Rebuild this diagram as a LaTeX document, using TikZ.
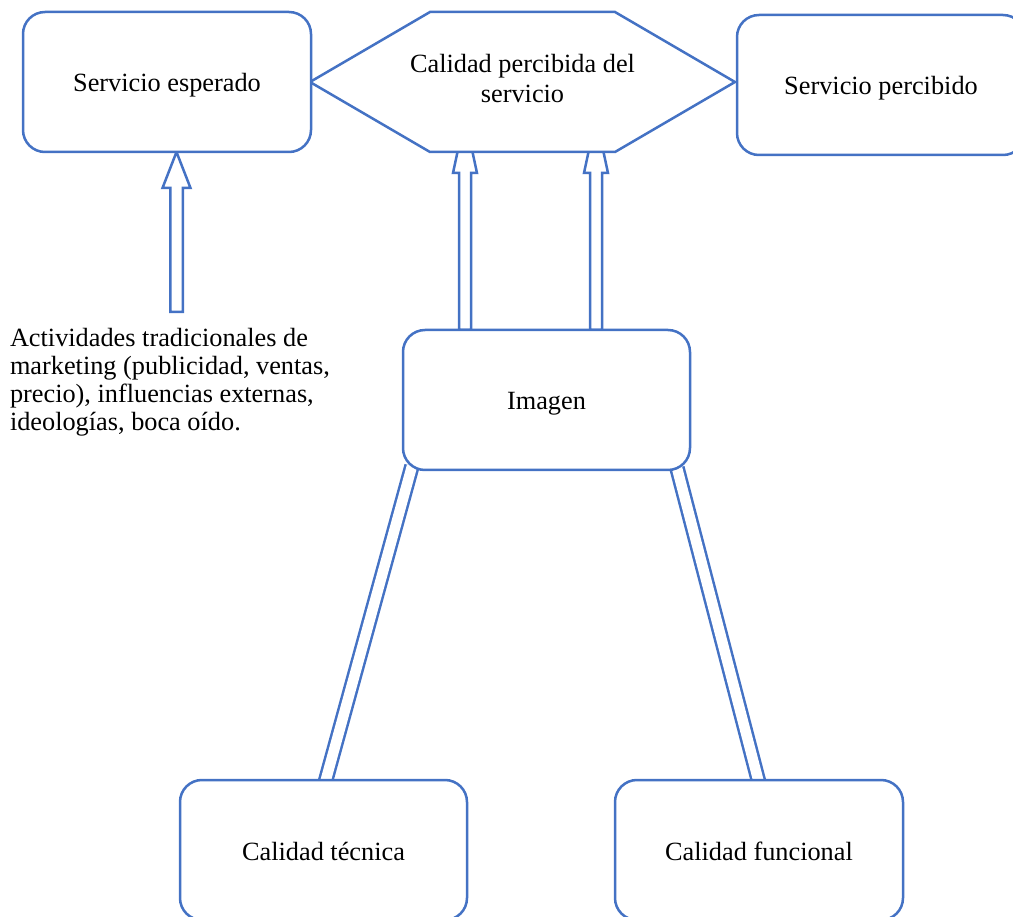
\documentclass[tikz,border=0pt]{standalone}
\usepackage{fontspec}
\setmainfont{Liberation Serif}
\usetikzlibrary{calc,backgrounds}
\definecolor{edge}{HTML}{4472C4}

% hollow block arrow from tail #1 up to tip #2
% #3 shaft half width, #4 head half width, #5 head length
\newcommand\hollowarrow[5]{%
  \draw[blockarrow] let \p1=(#1), \p2=(#2) in
    (\x1-#3,\y1) -- (\x1-#3,\y2-#5) -- (\x1-#4,\y2-#5) -- (\x1,\y2)
    -- (\x1+#4,\y2-#5) -- (\x1+#3,\y2-#5) -- (\x1+#3,\y1) -- cycle;
}

\begin{document}
\begin{tikzpicture}[x=1pt,y=-1pt,
  box/.style={draw=edge, line width=2.5pt, rounded corners=22pt, fill=white,
    minimum width=288pt, minimum height=140pt, inner sep=0pt, outer sep=0pt,
    anchor=north west, font=\fontsize{26.3}{30}\selectfont,
    text height=20pt, text depth=0pt},
  label text/.style={inner sep=0pt, outer sep=0pt,
    font=\fontsize{26.3}{28}\selectfont},
  blockarrow/.style={draw=edge, line width=2.5pt, fill=white, line join=miter},
  twin/.style={draw=edge, line width=2.5pt, double=white, double distance=10.5pt},
  hexa/.style={draw=edge, line width=2.5pt, fill=white, line join=miter}
]
\useasboundingbox (0,0) rectangle (1013,917);

% central hexagon
\coordinate (hl) at (310,82);
\coordinate (htl) at (430,12);
\coordinate (htr) at (615,12);
\coordinate (hr) at (735,82);
\coordinate (hbr) at (615,152);
\coordinate (hbl) at (430,152);
\draw[hexa] (hl) -- (htl) -- (htr) -- (hr) -- (hbr) -- (hbl) -- cycle;
\node[label text, align=center, font=\fontsize{26.3}{30}\selectfont]
  (cpc) at (522.5,79) {Calidad percibida del\\servicio};

% boxes
\node[box] (esp) at (23,12) {Servicio esperado};
\node[box] (perc) at (737,15) {Servicio percibido};
\node[box, minimum width=287pt] (img) at (403,330) {Imagen};
\node[box, minimum width=287pt] (tec) at (180,780) {Calidad técnica};
\node[box] (fun) at (615,780) {Calidad funcional};

% free text
\node[label text, align=left, anchor=north west] (act) at (10,328)
  {Actividades tradicionales de\\marketing (publicidad, ventas,\\precio), influencias externas,\\ideologías, boca oído.};

% connectors behind the shapes
\begin{scope}[on background layer]
  \coordinate (t1) at (176.5,312);
  \coordinate (t2) at (465,330);
  \coordinate (t3) at (596,330);
  \hollowarrow{t1}{t1 |- esp.south}{6.25pt}{14pt}{36pt}
  \hollowarrow{t2}{$(t2 |- hbl)+(0,-35)$}{6pt}{12pt}{56pt}
  \hollowarrow{t3}{$(t3 |- hbl)+(0,-35)$}{6pt}{12pt}{56pt}
  \draw[twin] ([shift={(9,-4)}]img.south west) -- ([shift={(145,3)}]tec.north west);
  \draw[twin] ([shift={(-13,-2)}]img.south east) -- ([shift={(144,3)}]fun.north west);
\end{scope}
\end{tikzpicture}
\end{document}
